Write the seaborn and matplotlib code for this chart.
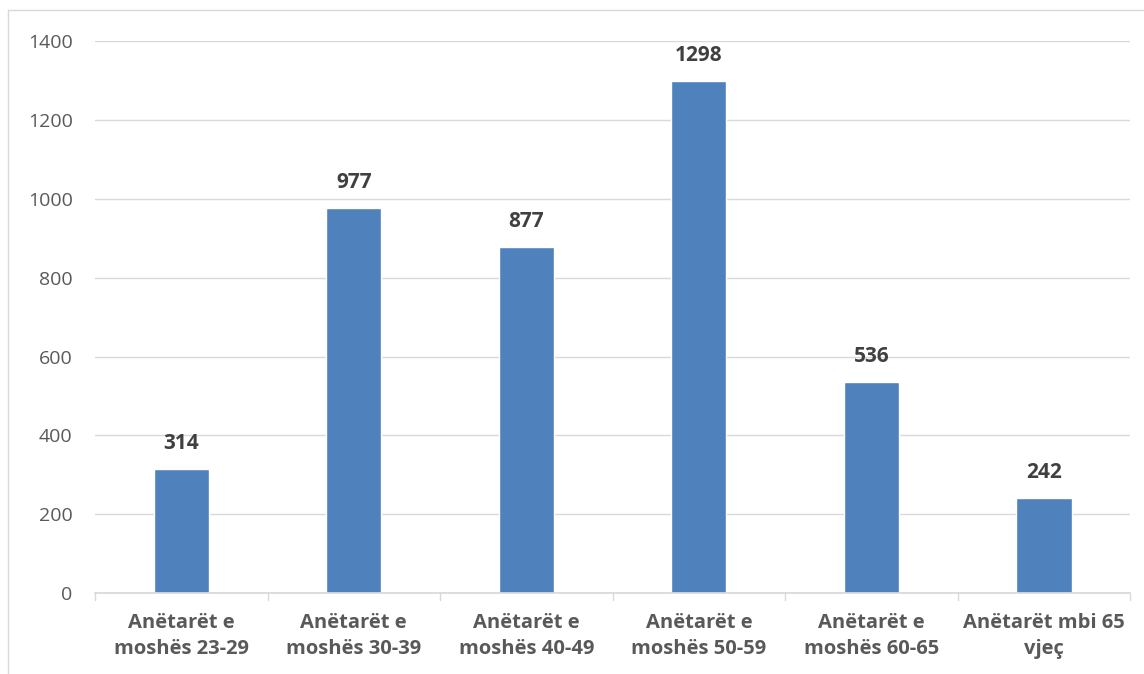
import matplotlib
matplotlib.use("Agg")
import matplotlib.pyplot as plt
import seaborn as sns
import pandas as pd
from matplotlib.lines import Line2D

categories = ["Anëtarët e\nmoshës 23-29", "Anëtarët e\nmoshës 30-39", "Anëtarët e\nmoshës 40-49",
              "Anëtarët e\nmoshës 50-59", "Anëtarët e\nmoshës 60-65", "Anëtarët mbi 65\nvjeç"]
values = [314, 977, 877, 1298, 536, 242]
yticks = [0, 200, 400, 600, 800, 1000, 1200, 1400]

df = pd.DataFrame({"cat": categories, "val": values})

sns.set_theme(style="white")
plt.rcParams["font.family"] = ["Open Sans", "DejaVu Sans"]

fig = plt.figure(figsize=(11.44, 6.74), dpi=100)
ax = fig.add_axes([0.083, 0.12, 0.905, 0.819])

sns.barplot(data=df, x="cat", y="val", color="#4F81BD", width=0.32, saturation=1, ax=ax, zorder=3)

ax.set_ylim(0, 1400)
ax.set_xlim(-0.5, 5.5)
ax.set_yticks(yticks)
ax.yaxis.grid(True, color="#D9D9D9", linewidth=1, zorder=0)
ax.set_xlabel("")
ax.set_ylabel("")
for s in ["top", "right", "left"]:
    ax.spines[s].set_visible(False)
ax.spines["bottom"].set_color("#D9D9D9")
ax.spines["bottom"].set_zorder(4)

ax.tick_params(axis="y", labelsize=14, labelcolor="#595959", length=0, pad=16)
ax.set_xticks(range(len(categories)))
ax.set_xticklabels(categories, fontsize=14.5, fontweight="bold", color="#595959", linespacing=1.45)
ax.tick_params(axis="x", length=0, pad=14)
# category boundary ticks
for b in range(len(categories) + 1):
    ax.plot([b - 0.5, b - 0.5], [0, -18], color="#D9D9D9", lw=1, clip_on=False)

for i, v in enumerate(values):
    ax.text(i, v + 38, str(v), ha="center", va="bottom", fontsize=15, fontweight="bold", color="#404040")

# chart border
fig.add_artist(Line2D([8 / 1144, 1], [1 - 10 / 674, 1 - 10 / 674], color="#D9D9D9", lw=1))
fig.add_artist(Line2D([8 / 1144, 8 / 1144], [0, 1 - 10 / 674], color="#D9D9D9", lw=1))

fig.savefig("out.png", dpi=100, facecolor="white")
